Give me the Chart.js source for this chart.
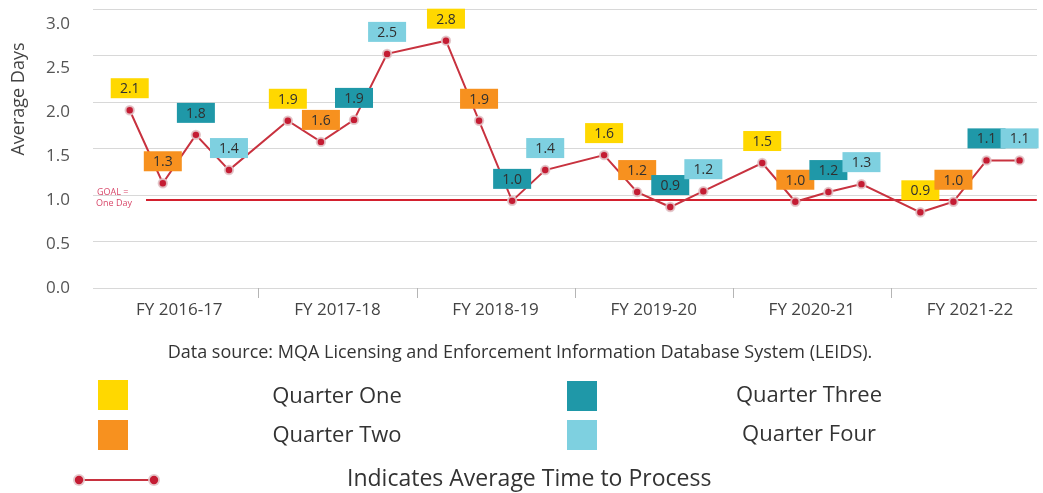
<!DOCTYPE html>
<html>
<head>
<meta charset="utf-8">
<script src="https://cdn.jsdelivr.net/npm/chart.js@4/dist/chart.umd.min.js"></script>
<style>
  body { margin: 0; background: #fff; }
  #wrap { width: 1043px; height: 493px; }
</style>
</head>
<body>
<div id="wrap"><canvas id="chart" width="1043" height="493"></canvas></div>
<script>
var fiscalYears = ["FY 2016-17", "FY 2017-18", "FY 2018-19", "FY 2019-20", "FY 2020-21", "FY 2021-22"];
var quarterNames = ["Quarter One", "Quarter Two", "Quarter Three", "Quarter Four"];
var quarterColors = ["#ffd800", "#f7911f", "#1f98a8", "#7ed0e0"];

// height of each dot on the line (days)
var avgDays = [2.02, 1.19, 1.74, 1.34,
               1.90, 1.66, 1.91, 2.66,
               2.81, 1.90, 0.99, 1.34,
               1.51, 1.09, 0.92, 1.10,
               1.42, 0.98, 1.09, 1.18,
               0.86, 0.98, 1.45, 1.45];
// value printed in the coloured box over each dot
var boxLabels = ["2.1", "1.3", "1.8", "1.4",
                 "1.9", "1.6", "1.9", "2.5",
                 "2.8", "1.9", "1.0", "1.4",
                 "1.6", "1.2", "0.9", "1.2",
                 "1.5", "1.0", "1.2", "1.3",
                 "0.9", "1.0", "1.1", "1.1"];
var yTicks = [0, 0.5, 1.0, 1.5, 2.0, 2.5, 3.0];
var goalDays = 1.0;
var sourceNote = "Data source: MQA Licensing and Enforcement Information Database System (LEIDS).";
var lineLegend = "Indicates Average Time to Process";

// one x unit = one quarter, each fiscal year block is a bit wider than 4 quarters
var groupStride = 4.78;

function pointsFor(values) {
  return values.map(function(v, i) {
    var g = Math.floor(i / 4);
    return { x: g * groupStride + (i % 4), y: v };
  });
}

function drawDot(ctx, x, y) {
  ctx.beginPath();
  ctx.arc(x, y, 6, 0, Math.PI * 2);
  ctx.fillStyle = "rgba(226,196,200,0.9)";
  ctx.fill();
  ctx.beginPath();
  ctx.arc(x, y, 4.2, 0, Math.PI * 2);
  ctx.fillStyle = "#c41c33";
  ctx.fill();
}

var extras = {
  id: "extras",
  beforeDatasetsDraw: function(chart) {
    var ctx = chart.ctx;
    var area = chart.chartArea;
    var xs = chart.scales.x;
    var gy = chart.scales.y.getPixelForValue(goalDays);

    ctx.save();
    // goal line
    ctx.strokeStyle = "#d3202e";
    ctx.lineWidth = 2;
    ctx.beginPath();
    ctx.moveTo(area.left + 53, gy);
    ctx.lineTo(area.right, gy);
    ctx.stroke();

    ctx.fillStyle = "#d8486a";
    ctx.font = "9px 'Open Sans'";
    ctx.textAlign = "left";
    ctx.textBaseline = "middle";
    ctx.fillText("GOAL =", area.left + 4, gy - 8);
    ctx.fillText("One Day", area.left + 3, gy + 3);

    // separators between fiscal years
    ctx.strokeStyle = "#b5b5b5";
    ctx.lineWidth = 1;
    for (var g = 0; g < fiscalYears.length - 1; g++) {
      var sx = Math.round(xs.getPixelForValue(g * groupStride + 3 + (groupStride - 3) / 2)) + 0.5;
      ctx.beginPath();
      ctx.moveTo(sx, area.bottom);
      ctx.lineTo(sx, area.bottom + 10);
      ctx.stroke();
    }
    ctx.restore();
  },
  afterDatasetsDraw: function(chart) {
    var ctx = chart.ctx;
    var meta = chart.getDatasetMeta(0);
    ctx.save();
    ctx.font = "14px 'Open Sans'";
    ctx.textAlign = "center";
    ctx.textBaseline = "middle";
    meta.data.forEach(function(pt, i) {
      var w = 38, h = 20;
      var bx = pt.x - w / 2;
      var by = pt.y - 12 - h;
      ctx.fillStyle = quarterColors[i % 4];
      ctx.fillRect(bx, by, w, h);
      ctx.fillStyle = "#303030";
      ctx.fillText(boxLabels[i], pt.x, by + h / 2 + 1);
    });
    ctx.restore();
  },
  afterDraw: function(chart) {
    var ctx = chart.ctx;
    ctx.save();

    // y axis title
    ctx.translate(19, 99);
    ctx.rotate(-Math.PI / 2);
    ctx.font = "18px 'Open Sans'";
    ctx.fillStyle = "#444";
    ctx.textAlign = "center";
    ctx.textBaseline = "middle";
    ctx.fillText("Average Days", 0, 0);
    ctx.setTransform(1, 0, 0, 1, 0, 0);

    // data source note
    ctx.font = "18px 'Open Sans'";
    ctx.fillStyle = "#333";
    ctx.fillText(sourceNote, 520, 353);

    // quarter legend
    var sq = [[98, 380], [98, 420], [567, 381], [567, 420]];
    var tx = [[337, 397], [337, 436], [809, 396], [809, 435]];
    ctx.font = "22px 'Open Sans'";
    for (var i = 0; i < 4; i++) {
      ctx.fillStyle = quarterColors[i];
      ctx.fillRect(sq[i][0], sq[i][1], 30, 30);
      ctx.fillStyle = "#333";
      ctx.fillText(quarterNames[i], tx[i][0], tx[i][1]);
    }

    // line legend
    ctx.strokeStyle = "#c8323f";
    ctx.lineWidth = 2;
    ctx.beginPath();
    ctx.moveTo(79, 480);
    ctx.lineTo(154, 480);
    ctx.stroke();
    drawDot(ctx, 79, 480);
    drawDot(ctx, 154, 480);
    ctx.fillStyle = "#333";
    ctx.textAlign = "left";
    ctx.font = "23px 'Open Sans'";
    ctx.fillText(lineLegend, 347, 479);

    ctx.restore();
  }
};

Chart.defaults.font.family = "'Open Sans', sans-serif";

new Chart(document.getElementById("chart"), {
  type: "line",
  data: {
    datasets: [{
      data: pointsFor(avgDays),
      borderColor: "#c8323f",
      borderWidth: 2,
      pointRadius: 4.2,
      pointBorderWidth: 2,
      pointBackgroundColor: "#c41c33",
      pointBorderColor: "rgba(226,196,200,0.9)",
      pointHoverRadius: 4.2,
      tension: 0
    }]
  },
  options: {
    responsive: false,
    animation: false,
    layout: { padding: { top: 9, left: 0, right: 0, bottom: 0 } },
    plugins: { legend: { display: false }, tooltip: { enabled: false } },
    events: [],
    scales: {
      x: {
        type: "linear",
        min: -1.11,
        max: 27.42,
        grid: { display: false },
        border: { display: false },
        afterBuildTicks: function(scale) {
          scale.ticks = fiscalYears.map(function(_, g) {
            return { value: g * groupStride + 1.5 };
          });
        },
        afterFit: function(scale) {
          scale.height = 205;
          scale.paddingLeft = 0;
          scale.paddingRight = 0;
        },
        ticks: {
          autoSkip: false,
          maxRotation: 0,
          padding: 4,
          color: "#444",
          font: { size: 17 },
          callback: function(value, index) { return fiscalYears[index]; }
        }
      },
      y: {
        type: "linear",
        position: "left",
        min: 0,
        max: 3.17,
        grid: { display: false, drawTicks: false },
        border: { display: false },
        afterBuildTicks: function(scale) {
          scale.ticks = yTicks.map(function(v) { return { value: v }; });
        },
        afterFit: function(scale) {
          scale.width = 93;
          scale.paddingTop = 0;
          scale.paddingBottom = 0;
        },
        ticks: {
          padding: 23,
          color: "#555",
          font: { size: 17 },
          callback: function(v) { return v.toFixed(1); }
        }
      },
      grid6: {
        type: "linear",
        position: "right",
        min: 0,
        max: 6,
        ticks: { display: false, stepSize: 1 },
        grid: { color: "#d8d8d8", drawTicks: false },
        border: { display: false },
        afterFit: function(scale) { scale.width = 0; }
      }
    }
  },
  plugins: [extras]
});
</script>
</body>
</html>
